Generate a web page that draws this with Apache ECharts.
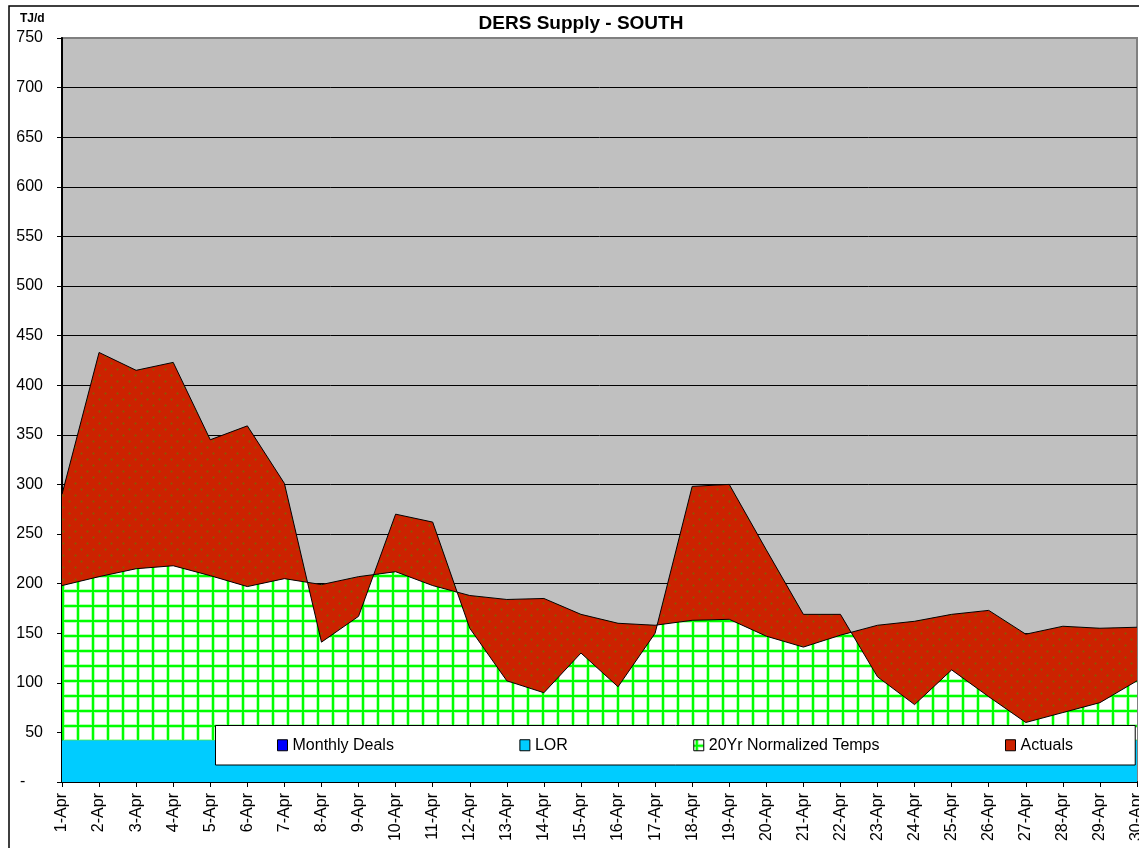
<!DOCTYPE html>
<html><head><meta charset="utf-8">
<script src="https://cdn.jsdelivr.net/npm/echarts@6/dist/echarts.min.js"></script>
<style>html,body{margin:0;padding:0;background:#fff}#c{width:1139px;height:848px}</style>
</head><body><div id="c"></div>
<script>
// ---- data (TJ/d) ----
const days = ['1-Apr','2-Apr','3-Apr','4-Apr','5-Apr','6-Apr','7-Apr','8-Apr','9-Apr','10-Apr',
  '11-Apr','12-Apr','13-Apr','14-Apr','15-Apr','16-Apr','17-Apr','18-Apr','19-Apr','20-Apr',
  '21-Apr','22-Apr','23-Apr','24-Apr','25-Apr','26-Apr','27-Apr','28-Apr','29-Apr','30-Apr'];
const monthlyDeals = [0,0,0,0,0,0,0,0,0,0,0,0,0,0,0,0,0,0,0,0,0,0,0,0,0,0,0,0,0,0];
const lor = [42,42,42,42,42,42,42,42,42,42,42,42,42,42,42,42,42,42,42,42,42,42,42,42,42,42,42,42,42,42];
// level of the 20Yr normalized temps band (top of green area)
const normalLevel = [198,207,215,218,208,197,205,199,207,212,198,188,184,185,169,160,158,163,164,147,136,148,158,162,169,173,149,157,155,156];
// actual supply level
const actualLevel = [290,433,415,423,345,359,301,141,167,270,262,155,102,90,130,96,150,298,300,234,169,169,106,78,113,86,60,70,80,102];
const yMin = 0, yMax = 750, yStep = 50;

// stacked pieces built from the read values
const normalPiece = normalLevel.map((v,i)=>v - lor[i] - monthlyDeals[i]);
const actualPiece = actualLevel.map((v,i)=>v - normalLevel[i]);

// ---- patterns ----
function greenTile(){
  const c=document.createElement('canvas'); c.width=15; c.height=15;
  const g=c.getContext('2d');
  g.fillStyle='#ffffff'; g.fillRect(0,0,15,15);
  g.fillStyle='#B4FFB4'; g.fillRect(1,0,1,15); g.fillRect(4,0,1,15); g.fillRect(0,4,15,1); g.fillRect(0,7,15,1);
  g.fillStyle='#00FF00'; g.fillRect(2,0,2,15); g.fillRect(0,5,15,2);
  return c;
}
function redTile(){
  const c=document.createElement('canvas'); c.width=12; c.height=12;
  const g=c.getContext('2d');
  g.fillStyle='#CC2200'; g.fillRect(0,0,12,12);
  g.fillStyle='#994A00';
  g.fillRect(2,3,3,1); g.fillRect(3,2,1,3);
  g.fillRect(8,9,3,1); g.fillRect(9,8,1,3);
  return c;
}
const greenPat = {image: greenTile(), repeat:'repeat'};
const redPat = {image: redTile(), repeat:'repeat'};

const FONT = '"Liberation Sans", Arial, sans-serif';
const splitColors = [];
for (let v=yMin; v<=yMax; v+=yStep) splitColors.push(v===yMax ? '#808080' : '#000000');

const chart = echarts.init(document.getElementById('c'), null, {renderer:'canvas'});
const stackBase = {type:'line', stack:'supply', stackStrategy:'all', symbol:'none', showSymbol:false, silent:true, animation:false};
chart.setOption({
  animation:false,
  backgroundColor:'#ffffff',
  grid:{left:62, right:2, top:38, bottom:66, containLabel:false, outerBoundsMode:'none', show:true, backgroundColor:'#C0C0C0', borderColor:'#808080', borderWidth:2},
  xAxis:{type:'category', data:days, boundaryGap:false,
    axisLine:{show:true, lineStyle:{color:'#000', width:2}},
    axisTick:{show:true, length:5, interval:0, lineStyle:{color:'#000', width:1}},
    axisLabel:{rotate:90, interval:0, margin:11, fontFamily:FONT, fontSize:16, color:'#000', hideOverlap:false},
    splitLine:{show:false}},
  yAxis:{type:'value', min:yMin, max:yMax, interval:yStep,
    axisLine:{show:true, lineStyle:{color:'#000', width:2}},
    axisTick:{show:true, length:5, lineStyle:{color:'#000', width:1}},
    axisLabel:{margin:19, fontFamily:FONT, fontSize:16, color:'#000', formatter:v=> v===0 ? '-    ' : String(v)},
    splitLine:{show:true, lineStyle:{color:splitColors, width:1}}},
  legend:{
    data:['Monthly Deals','LOR','20Yr Normalized Temps','Actuals'],
    left:215.5, top:725.5, icon:'rect', itemWidth:10, itemHeight:11, itemGap:125.5,
    padding:[11.75, 62.25, 11.75, 61.5],
    backgroundColor:'#ffffff', borderColor:'#000', borderWidth:1,
    itemStyle:{borderColor:'#000', borderWidth:1},
    textStyle:{fontFamily:FONT, fontSize:16, color:'#000'},
    selectedMode:false, z:5
  },
  graphic:[
    {type:'text', z:10, x:581, y:24, style:{text:'DERS Supply - SOUTH', font:'bold 19px '+FONT, fill:'#000', align:'center', verticalAlign:'middle', textAlign:'center', textVerticalAlign:'middle'}},
    {type:'text', z:10, x:20, y:19, style:{text:'TJ/d', font:'bold 12px '+FONT, fill:'#000', align:'left', verticalAlign:'middle', textAlign:'left', textVerticalAlign:'middle'}},
    {type:'rect', z:10, shape:{x:9, y:6, width:1300, height:1000}, style:{fill:'none', stroke:'#000', lineWidth:1.5}}
  ],
  series:[
    Object.assign({}, stackBase, {name:'Monthly Deals', data:monthlyDeals, lineStyle:{width:0, color:'#0000FF'}, itemStyle:{color:'#0000FF'}, areaStyle:{color:'#0000FF', opacity:1}}),
    Object.assign({}, stackBase, {name:'LOR', data:lor, lineStyle:{width:0, color:'#00CCFF'}, itemStyle:{color:'#00CCFF'}, areaStyle:{color:'#00CCFF', opacity:1}}),
    Object.assign({}, stackBase, {name:'20Yr Normalized Temps', data:normalPiece, lineStyle:{width:0}, itemStyle:{color:greenPat}, areaStyle:{color:greenPat, opacity:1}}),
    Object.assign({}, stackBase, {name:'Actuals', data:actualPiece, lineStyle:{color:'#000', width:1}, itemStyle:{color:'#CC2200'}, areaStyle:{color:redPat, opacity:1}}),
    {type:'line', name:'normal-edge', data:normalLevel, symbol:'none', showSymbol:false, silent:true, z:3, lineStyle:{color:'#000', width:1}}
  ]
});
</script></body></html>
